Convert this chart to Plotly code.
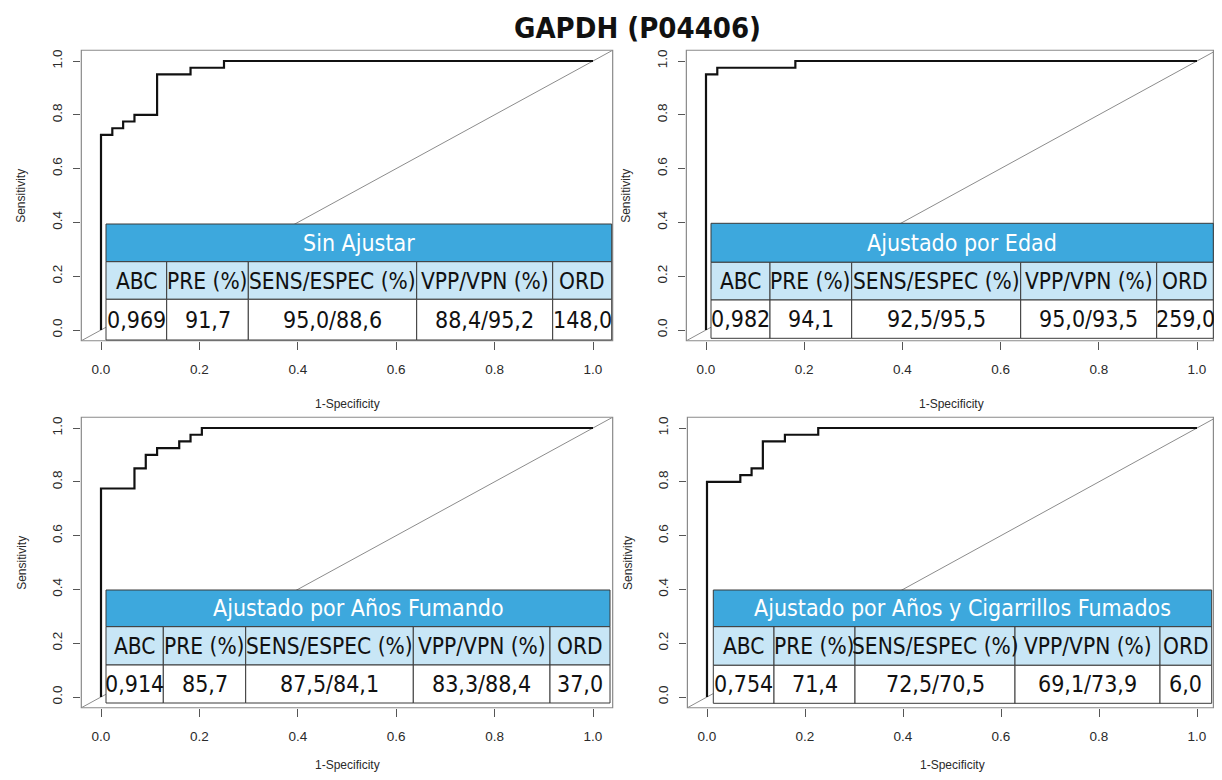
import plotly.graph_objects as go

# page body has an 8px default margin: the figure is drawn 8px in from the window edge
OFF = 8
W, H = 1222 - 2 * OFF, 780 - 2 * OFF

# ---------------- data ----------------
title = "GAPDH (P04406)"
panel_titles = ["Sin Ajustar", "Ajustado por Edad", "Ajustado por Años Fumando",
                "Ajustado por Años y Cigarrillos Fumados"]
col_headers = ["ABC", "PRE (%)", "SENS/ESPEC (%)", "VPP/VPN (%)", "ORD"]
values_1 = ["0,969", "91,7", "95,0/88,6", "88,4/95,2", "148,0"]
values_2 = ["0,982", "94,1", "92,5/95,5", "95,0/93,5", "259,0"]
values_3 = ["0,914", "85,7", "87,5/84,1", "83,3/88,4", "37,0"]
values_4 = ["0,754", "71,4", "72,5/70,5", "69,1/73,9", "6,0"]

fpr_1 = [0, 0, 0.023, 0.045, 0.068, 0.114, 0.182, 0.25, 1]
sens_1 = [0, 0.725, 0.75, 0.775, 0.8, 0.95, 0.975, 1, 1]
fpr_2 = [0, 0, 0.023, 0.182, 1]
sens_2 = [0, 0.95, 0.975, 1, 1]
fpr_3 = [0, 0, 0.068, 0.091, 0.114, 0.159, 0.182, 0.205, 1]
sens_3 = [0, 0.775, 0.85, 0.9, 0.925, 0.95, 0.975, 1, 1]
fpr_4 = [0, 0, 0.068, 0.091, 0.114, 0.159, 0.227, 1]
sens_4 = [0, 0.8, 0.825, 0.85, 0.95, 0.975, 1, 1]

tick_vals = [0, 0.2, 0.4, 0.6, 0.8, 1.0]
tick_text = ["0.0", "0.2", "0.4", "0.6", "0.8", "1.0"]

# ---------------- layout geometry (window pixels) ----------------
panels = [
    dict(x0=101, x1=593, y0=330, y1=61),
    dict(x0=706, x1=1197, y0=330, y1=61),
    dict(x0=101, x1=593, y0=697, y1=428),
    dict(x0=707, x1=1197, y0=697, y1=428),
]
tables = [
    dict(cols=[106, 166.7, 248.3, 416.7, 552.7, 611.7], rows=[224, 261.7, 299.3, 340]),
    dict(cols=[711, 770, 851.7, 1020.7, 1156.7, 1213.3], rows=[223.3, 262.3, 300, 338.3]),
    dict(cols=[106, 163.3, 245.7, 413.3, 550, 610], rows=[590, 626.7, 665, 703]),
    dict(cols=[713.3, 774, 855, 1015, 1160, 1211.7], rows=[590, 626.7, 665.3, 703.3]),
]
xtitle_y = [404, 404, 765, 765]

PAD = 0.04
TFONT = "DejaVu Sans Condensed, Liberation Sans Narrow, DejaVu Sans, sans-serif"
AFONT = "Liberation Sans, Arial, sans-serif"
BLUE = "#3DA8DD"
LIGHT = "#C8E6F6"
BORDER = "#3a3a3a"
BOXC = "#8a8a8a"


def px(x):
    return (x - OFF) / W


def py(y):
    return 1 - (y - OFF) / H


fig = go.Figure()
shapes = []
annotations = []

all_fpr = [fpr_1, fpr_2, fpr_3, fpr_4]
all_sens = [sens_1, sens_2, sens_3, sens_4]
all_vals = [values_1, values_2, values_3, values_4]

for i, p in enumerate(panels):
    n = i + 1
    xa = "x" if n == 1 else f"x{n}"
    ya = "y" if n == 1 else f"y{n}"
    dx = p["x1"] - p["x0"]
    dy = p["y0"] - p["y1"]
    xl, xr = p["x0"] - PAD * dx, p["x1"] + PAD * dx
    yb, yt = p["y0"] + PAD * dy, p["y1"] - PAD * dy
    # clamp domain to the figure while keeping the data scale
    dl, dr = max(xl, OFF), min(xr, OFF + W)
    rx = [(dl - p["x0"]) / dx, (dr - p["x0"]) / dx]
    axkey = "xaxis" if n == 1 else f"xaxis{n}"
    aykey = "yaxis" if n == 1 else f"yaxis{n}"
    fig.update_layout({
        axkey: dict(domain=[px(dl), px(dr)], range=rx, anchor=ya,
                    showgrid=False, zeroline=False, showline=False,
                    ticks="outside", ticklen=8, tickcolor="#555", tickwidth=1,
                    tickvals=tick_vals, ticktext=tick_text, ticklabelstandoff=8,
                    tickfont=dict(family=AFONT, size=13.5, color="#2a2a2a")),
        aykey: dict(domain=[py(yb), py(yt)], range=[-PAD, 1 + PAD], anchor=xa,
                    showgrid=False, zeroline=False, showline=False,
                    ticks="outside", ticklen=7, tickcolor="#555", tickwidth=1,
                    tickvals=tick_vals, ticktext=tick_text, tickangle=-90,
                    ticklabelstandoff=6,
                    tickfont=dict(family=AFONT, size=13.5, color="#2a2a2a")),
    })
    # abline(0,1) spanning the full plot region
    fig.add_trace(go.Scatter(x=[-PAD, 1 + PAD], y=[-PAD, 1 + PAD], mode="lines",
                             line=dict(color="#8c8c8c", width=1), xaxis=xa, yaxis=ya,
                             hoverinfo="skip", showlegend=False))
    fig.add_trace(go.Scatter(x=all_fpr[i], y=all_sens[i], mode="lines",
                             line=dict(color="#111", width=2.2, shape="hv"),
                             xaxis=xa, yaxis=ya, showlegend=False))
    # plot box
    shapes.append(dict(type="rect", xref="paper", yref="paper",
                       x0=px(xl), x1=px(min(xr, OFF + W - 0.6)), y0=py(yb), y1=py(yt),
                       line=dict(color=BOXC, width=1.2), layer="above"))
    # axis titles
    annotations.append(dict(text="1-Specificity", xref="paper", yref="paper",
                            x=px((xl + xr) / 2), y=py(xtitle_y[i]), showarrow=False,
                            font=dict(family=AFONT, size=12, color="#2a2a2a"),
                            xanchor="center", yanchor="middle"))
    annotations.append(dict(text="Sensitivity", xref="paper", yref="paper",
                            x=px(xl - 60), y=py((yb + yt) / 2), showarrow=False,
                            textangle=-90,
                            font=dict(family=AFONT, size=12, color="#2a2a2a"),
                            xanchor="center", yanchor="middle"))

    # table
    t = tables[i]
    c, r = t["cols"], t["rows"]
    shapes.append(dict(type="rect", xref="paper", yref="paper",
                       x0=px(c[0]), x1=px(c[-1]), y0=py(r[1]), y1=py(r[0]),
                       fillcolor=BLUE, line=dict(color=BORDER, width=1), layer="above"))
    for j in range(5):
        shapes.append(dict(type="rect", xref="paper", yref="paper",
                           x0=px(c[j]), x1=px(c[j + 1]), y0=py(r[2]), y1=py(r[1]),
                           fillcolor=LIGHT, line=dict(color=BORDER, width=1), layer="above"))
        shapes.append(dict(type="rect", xref="paper", yref="paper",
                           x0=px(c[j]), x1=px(c[j + 1]), y0=py(r[3]), y1=py(r[2]),
                           fillcolor="white", line=dict(color=BORDER, width=1), layer="above"))
        annotations.append(dict(text=col_headers[j], xref="paper", yref="paper",
                                x=px((c[j] + c[j + 1]) / 2), y=py((r[1] + r[2]) / 2),
                                showarrow=False, xanchor="center", yanchor="middle",
                                font=dict(family=TFONT, size=22.5, color="#111")))
        annotations.append(dict(text=all_vals[i][j], xref="paper", yref="paper",
                                x=px((c[j] + c[j + 1]) / 2), y=py((r[2] + r[3]) / 2),
                                showarrow=False, xanchor="center", yanchor="middle",
                                font=dict(family=TFONT, size=23, color="#111")))
    annotations.append(dict(text=panel_titles[i], xref="paper", yref="paper",
                            x=px((c[0] + c[-1]) / 2), y=py((r[0] + r[1]) / 2),
                            showarrow=False, xanchor="center", yanchor="middle",
                            font=dict(family=TFONT, size=23, color="white")))

annotations.append(dict(text="<b>" + title + "</b>", xref="paper", yref="paper",
                        x=px(637), y=py(28), showarrow=False,
                        xanchor="center", yanchor="middle",
                        font=dict(family=TFONT, size=29, color="#111")))

fig.update_layout(width=W, height=H, margin=dict(l=0, r=0, t=0, b=0),
                  paper_bgcolor="white", plot_bgcolor="white",
                  shapes=shapes, annotations=annotations, showlegend=False)

fig.write_html("out.html")
